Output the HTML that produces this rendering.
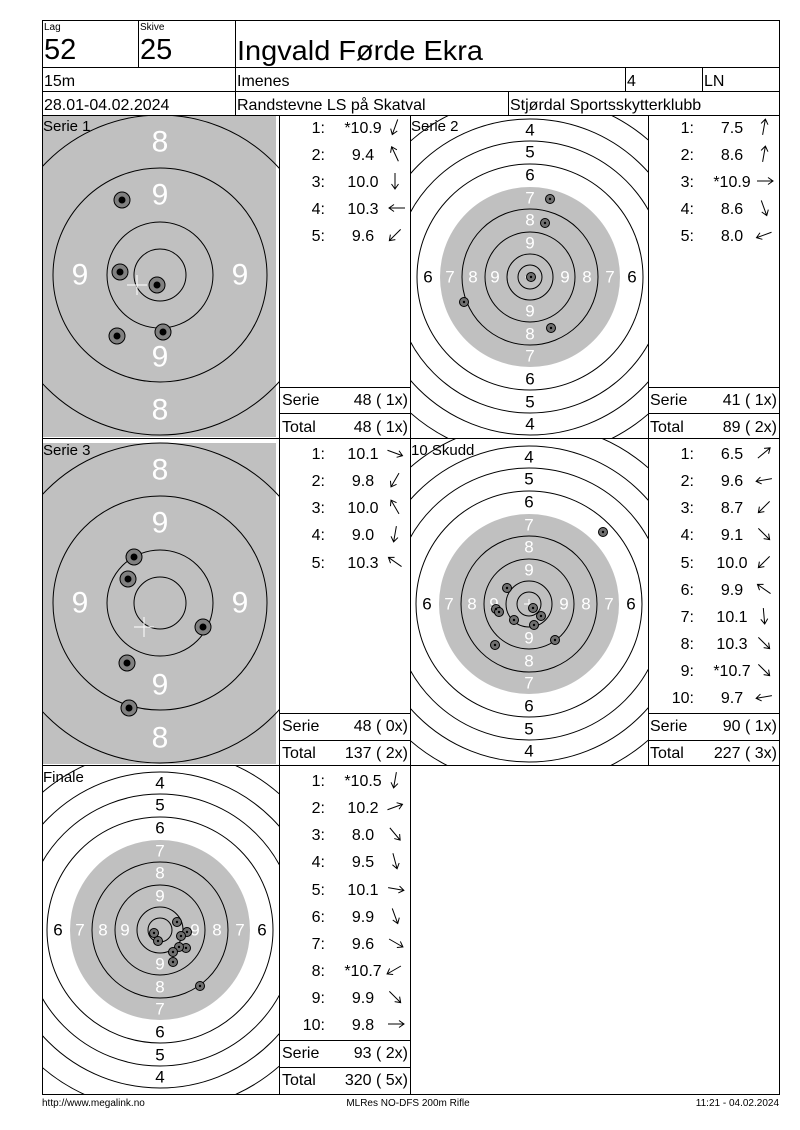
<!DOCTYPE html>
<html><head><meta charset="utf-8"><style>
html,body{margin:0;padding:0;background:#fff}
svg{display:block}
text{font-family:"Liberation Sans",Arial,sans-serif}
</style></head><body>
<svg width="800" height="1130" viewBox="0 0 800 1130" xmlns="http://www.w3.org/2000/svg">
<defs>
<clipPath id="c1"><rect x="42" y="115" width="237" height="323"/></clipPath>
<clipPath id="c2"><rect x="410" y="115" width="238" height="323"/></clipPath>
<clipPath id="c3"><rect x="42" y="438" width="237" height="327"/></clipPath>
<clipPath id="c4"><rect x="410" y="438" width="238" height="327"/></clipPath>
<clipPath id="c5"><rect x="42" y="765" width="237" height="329"/></clipPath>
<g id="tb" fill="none" stroke="#000" stroke-width="1">
<circle r="26"/><circle r="53"/><circle r="107"/><circle r="160"/>
</g>
<g id="ts">
<circle r="90" fill="#c0c0c0"/>
<g fill="none" stroke="#000" stroke-width="1">
<circle r="12"/><circle r="23"/><circle r="45"/><circle r="68"/><circle r="113"/><circle r="136"/><circle r="158"/><circle r="181"/>
</g>
</g>
<g id="ah" fill="none" stroke="#000" stroke-width="1"><path d="M-8,0 H8 M3,-3.5 L8,0 L3,3.5"/></g>
</defs>

<!-- Serie 1 -->
<g clip-path="url(#c1)">
<rect x="43" y="116" width="233" height="321" fill="#c0c0c0"/>
<g transform="translate(160,275)">
<use href="#tb"/>
<g fill="#fff" font-size="30" text-anchor="middle" dominant-baseline="central">
<text x="0" y="-133">8</text><text x="0" y="-80">9</text><text x="-80" y="0">9</text><text x="80" y="0">9</text><text x="0" y="82">9</text><text x="0" y="135">8</text>
</g>
</g>
<path d="M127,285 H147 M137,275 V295" stroke="#fff"/>
<g stroke="#000" fill="#808080">
<circle cx="122" cy="200" r="8"/><circle cx="120" cy="272" r="8"/><circle cx="157" cy="285" r="8"/><circle cx="117" cy="336" r="8"/><circle cx="163" cy="332" r="8"/>
</g>
<g fill="#000"><circle cx="122" cy="200" r="3.5"/><circle cx="120" cy="272" r="3.5"/><circle cx="157" cy="285" r="3.5"/><circle cx="117" cy="336" r="3.5"/><circle cx="163" cy="332" r="3.5"/></g>
<text x="43" y="131" font-size="15">Serie 1</text>
</g>

<!-- Serie 2 -->
<g clip-path="url(#c2)">
<g transform="translate(530,277)">
<use href="#ts"/>
<g font-size="17" text-anchor="middle" dominant-baseline="central">
<g fill="#000"><text y="-147">4</text><text y="-125">5</text><text y="-102">6</text><text y="102">6</text><text y="125">5</text><text y="147">4</text><text x="-102">6</text><text x="102">6</text></g>
<g fill="#fff"><text y="-79">7</text><text y="-57">8</text><text y="-34">9</text><text y="34">9</text><text y="57">8</text><text y="79">7</text><text x="-80">7</text><text x="80">7</text><text x="-57">8</text><text x="57">8</text><text x="-35">9</text><text x="35">9</text></g>
</g>
</g>
<path d="M530,272 V282 M525,277 H535" stroke="#fff"/>
<g stroke="#000" fill="#707070">
<circle cx="550" cy="199" r="4.5"/><circle cx="545" cy="223" r="4.5"/><circle cx="531" cy="277" r="4.5"/><circle cx="464" cy="302" r="4.5"/><circle cx="551" cy="328" r="4.5"/>
</g>
<g fill="#000"><circle cx="550" cy="199" r="1.2"/><circle cx="545" cy="223" r="1.2"/><circle cx="531" cy="277" r="1.2"/><circle cx="464" cy="302" r="1.2"/><circle cx="551" cy="328" r="1.2"/></g>
<text x="411" y="131" font-size="15">Serie 2</text>
</g>

<!-- Serie 3 -->
<g clip-path="url(#c3)">
<rect x="43" y="443" width="233" height="321" fill="#c0c0c0"/>
<g transform="translate(160,603)">
<use href="#tb"/>
<g fill="#fff" font-size="30" text-anchor="middle" dominant-baseline="central">
<text x="0" y="-133">8</text><text x="0" y="-80">9</text><text x="-80" y="0">9</text><text x="80" y="0">9</text><text x="0" y="82">9</text><text x="0" y="135">8</text>
</g>
</g>
<path d="M134,627 H154 M144,617 V637" stroke="#fff"/>
<g stroke="#000" fill="#808080">
<circle cx="134" cy="557" r="8"/><circle cx="128" cy="579" r="8"/><circle cx="203" cy="627" r="8"/><circle cx="127" cy="663" r="8"/><circle cx="129" cy="708" r="8"/>
</g>
<g fill="#000"><circle cx="134" cy="557" r="3.5"/><circle cx="128" cy="579" r="3.5"/><circle cx="203" cy="627" r="3.5"/><circle cx="127" cy="663" r="3.5"/><circle cx="129" cy="708" r="3.5"/></g>
<text x="43" y="455" font-size="15">Serie 3</text>
</g>

<!-- 10 Skudd -->
<g clip-path="url(#c4)">
<g transform="translate(529,604)">
<use href="#ts"/>
<g font-size="17" text-anchor="middle" dominant-baseline="central">
<g fill="#000"><text y="-147">4</text><text y="-125">5</text><text y="-102">6</text><text y="102">6</text><text y="125">5</text><text y="147">4</text><text x="-102">6</text><text x="102">6</text></g>
<g fill="#fff"><text y="-79">7</text><text y="-57">8</text><text y="-34">9</text><text y="34">9</text><text y="57">8</text><text y="79">7</text><text x="-80">7</text><text x="80">7</text><text x="-57">8</text><text x="57">8</text><text x="-35">9</text><text x="35">9</text></g>
</g>
</g>
<path d="M529,599 V609 M524,604 H534" stroke="#fff"/>
<g stroke="#000" fill="#707070">
<circle cx="603" cy="532" r="4.5"/><circle cx="507" cy="588" r="4.5"/><circle cx="496" cy="609" r="4.5"/><circle cx="499" cy="612" r="4.5"/><circle cx="533" cy="608" r="4.5"/><circle cx="541" cy="616" r="4.5"/><circle cx="514" cy="620" r="4.5"/><circle cx="534" cy="625" r="4.5"/><circle cx="555" cy="640" r="4.5"/><circle cx="495" cy="645" r="4.5"/>
</g>
<g fill="#000"><circle cx="603" cy="532" r="1.2"/><circle cx="507" cy="588" r="1.2"/><circle cx="496" cy="609" r="1.2"/><circle cx="499" cy="612" r="1.2"/><circle cx="533" cy="608" r="1.2"/><circle cx="541" cy="616" r="1.2"/><circle cx="514" cy="620" r="1.2"/><circle cx="534" cy="625" r="1.2"/><circle cx="555" cy="640" r="1.2"/><circle cx="495" cy="645" r="1.2"/></g>
<text x="411" y="455" font-size="15">10 Skudd</text>
</g>

<!-- Finale -->
<g clip-path="url(#c5)">
<g transform="translate(160,930)">
<use href="#ts"/>
<g font-size="17" text-anchor="middle" dominant-baseline="central">
<g fill="#000"><text y="-147">4</text><text y="-125">5</text><text y="-102">6</text><text y="102">6</text><text y="125">5</text><text y="147">4</text><text x="-102">6</text><text x="102">6</text></g>
<g fill="#fff"><text y="-79">7</text><text y="-57">8</text><text y="-34">9</text><text y="34">9</text><text y="57">8</text><text y="79">7</text><text x="-80">7</text><text x="80">7</text><text x="-57">8</text><text x="57">8</text><text x="-35">9</text><text x="35">9</text></g>
</g>
</g>
<g stroke="#000" fill="#707070">
<circle cx="177" cy="922" r="4.5"/><circle cx="187" cy="932" r="4.5"/><circle cx="154" cy="933" r="4.5"/><circle cx="158" cy="941" r="4.5"/><circle cx="181" cy="936" r="4.5"/><circle cx="186" cy="948" r="4.5"/><circle cx="179" cy="947" r="4.5"/><circle cx="173" cy="952" r="4.5"/><circle cx="173" cy="962" r="4.5"/><circle cx="200" cy="986" r="4.5"/>
</g>
<g fill="#000"><circle cx="177" cy="922" r="1.2"/><circle cx="187" cy="932" r="1.2"/><circle cx="154" cy="933" r="1.2"/><circle cx="158" cy="941" r="1.2"/><circle cx="181" cy="936" r="1.2"/><circle cx="186" cy="948" r="1.2"/><circle cx="179" cy="947" r="1.2"/><circle cx="173" cy="952" r="1.2"/><circle cx="173" cy="962" r="1.2"/><circle cx="200" cy="986" r="1.2"/></g>
<text x="43" y="782" font-size="15">Finale</text>
</g>

<!-- Grid lines -->
<g stroke="#000" stroke-width="1" fill="none">
<rect x="42.5" y="20.5" width="737" height="1074"/>
<path d="M42,67.5 H780 M42,91.5 H780 M42,115.5 H780 M42,438.5 H780 M42,765.5 H780"/>
<path d="M138.5,20 V67 M235.5,20 V115 M625.5,67 V91 M702.5,67 V91 M508.5,91 V115"/>
<path d="M279.5,115 V1094 M410.5,115 V1094 M648.5,115 V765"/>
<path d="M279,387.5 H410 M279,413.5 H410 M648,387.5 H780 M648,413.5 H780 M279,713.5 H410 M279,740.5 H410 M648,713.5 H780 M648,740.5 H780 M279,1040.5 H410 M279,1067.5 H410"/>
</g>

<!-- Header -->
<text x="44" y="30" font-size="10">Lag</text>
<text x="44" y="59" font-size="29">52</text>
<text x="140" y="30" font-size="10">Skive</text>
<text x="140" y="59" font-size="29">25</text>
<text x="237" y="60" font-size="28" textLength="246" lengthAdjust="spacingAndGlyphs">Ingvald Førde Ekra</text>
<g font-size="16">
<text x="44" y="86">15m</text>
<text x="237" y="86">Imenes</text>
<text x="627" y="86">4</text>
<text x="704" y="86">LN</text>
<text x="44" y="110">28.01-04.02.2024</text>
<text x="237" y="110">Randstevne LS på Skatval</text>
<text x="510" y="110">Stjørdal Sportsskytterklubb</text>
</g>

<!-- Scores -->
<g font-size="16">
<!-- S1 -->
<g text-anchor="end"><text x="325" y="133">1:</text><text x="325" y="160">2:</text><text x="325" y="187">3:</text><text x="325" y="214">4:</text><text x="325" y="241">5:</text></g>
<g text-anchor="middle"><text x="363" y="133">*10.9</text><text x="363" y="160">9.4</text><text x="363" y="187">10.0</text><text x="363" y="214">10.3</text><text x="363" y="241">9.6</text></g>
<text x="282" y="405">Serie</text><text x="408" y="405" text-anchor="end">48 ( 1x)</text>
<text x="282" y="432">Total</text><text x="408" y="432" text-anchor="end">48 ( 1x)</text>
<!-- S2 -->
<g text-anchor="end"><text x="694" y="133">1:</text><text x="694" y="160">2:</text><text x="694" y="187">3:</text><text x="694" y="214">4:</text><text x="694" y="241">5:</text></g>
<g text-anchor="middle"><text x="732" y="133">7.5</text><text x="732" y="160">8.6</text><text x="732" y="187">*10.9</text><text x="732" y="214">8.6</text><text x="732" y="241">8.0</text></g>
<text x="650" y="405">Serie</text><text x="777" y="405" text-anchor="end">41 ( 1x)</text>
<text x="650" y="432">Total</text><text x="777" y="432" text-anchor="end">89 ( 2x)</text>
<!-- S3 -->
<g text-anchor="end"><text x="325" y="459">1:</text><text x="325" y="486">2:</text><text x="325" y="513">3:</text><text x="325" y="540">4:</text><text x="325" y="568">5:</text></g>
<g text-anchor="middle"><text x="363" y="459">10.1</text><text x="363" y="486">9.8</text><text x="363" y="513">10.0</text><text x="363" y="540">9.0</text><text x="363" y="568">10.3</text></g>
<text x="282" y="731">Serie</text><text x="408" y="731" text-anchor="end">48 ( 0x)</text>
<text x="282" y="758">Total</text><text x="408" y="758" text-anchor="end">137 ( 2x)</text>
<!-- 10 Skudd -->
<g text-anchor="end"><text x="694" y="459">1:</text><text x="694" y="486">2:</text><text x="694" y="513">3:</text><text x="694" y="540">4:</text><text x="694" y="568">5:</text><text x="694" y="595">6:</text><text x="694" y="622">7:</text><text x="694" y="649">8:</text><text x="694" y="676">9:</text><text x="694" y="703">10:</text></g>
<g text-anchor="middle"><text x="732" y="459">6.5</text><text x="732" y="486">9.6</text><text x="732" y="513">8.7</text><text x="732" y="540">9.1</text><text x="732" y="568">10.0</text><text x="732" y="595">9.9</text><text x="732" y="622">10.1</text><text x="732" y="649">10.3</text><text x="732" y="676">*10.7</text><text x="732" y="703">9.7</text></g>
<text x="650" y="731">Serie</text><text x="777" y="731" text-anchor="end">90 ( 1x)</text>
<text x="650" y="758">Total</text><text x="777" y="758" text-anchor="end">227 ( 3x)</text>
<!-- Finale -->
<g text-anchor="end"><text x="325" y="786">1:</text><text x="325" y="813">2:</text><text x="325" y="840">3:</text><text x="325" y="867">4:</text><text x="325" y="895">5:</text><text x="325" y="922">6:</text><text x="325" y="949">7:</text><text x="325" y="976">8:</text><text x="325" y="1003">9:</text><text x="325" y="1030">10:</text></g>
<g text-anchor="middle"><text x="363" y="786">*10.5</text><text x="363" y="813">10.2</text><text x="363" y="840">8.0</text><text x="363" y="867">9.5</text><text x="363" y="895">10.1</text><text x="363" y="922">9.9</text><text x="363" y="949">9.6</text><text x="363" y="976">*10.7</text><text x="363" y="1003">9.9</text><text x="363" y="1030">9.8</text></g>
<text x="282" y="1058">Serie</text><text x="408" y="1058" text-anchor="end">93 ( 2x)</text>
<text x="282" y="1085">Total</text><text x="408" y="1085" text-anchor="end">320 ( 5x)</text>
</g>

<!-- Arrows -->
<use href="#ah" transform="translate(395,127) rotate(110)"/>
<use href="#ah" transform="translate(395,154) rotate(245)"/>
<use href="#ah" transform="translate(395,181) rotate(90)"/>
<use href="#ah" transform="translate(397,208) rotate(180)"/>
<use href="#ah" transform="translate(395,235) rotate(135)"/>

<use href="#ah" transform="translate(764,127) rotate(280)"/>
<use href="#ah" transform="translate(764,154) rotate(280)"/>
<use href="#ah" transform="translate(765,181) rotate(0)"/>
<use href="#ah" transform="translate(764,208) rotate(70)"/>
<use href="#ah" transform="translate(764,235) rotate(160)"/>

<use href="#ah" transform="translate(395,453) rotate(20)"/>
<use href="#ah" transform="translate(395,480) rotate(120)"/>
<use href="#ah" transform="translate(395,507) rotate(240)"/>
<use href="#ah" transform="translate(395,534) rotate(100)"/>
<use href="#ah" transform="translate(395,562) rotate(215)"/>

<use href="#ah" transform="translate(764,453) rotate(320)"/>
<use href="#ah" transform="translate(764,480) rotate(170)"/>
<use href="#ah" transform="translate(764,507) rotate(135)"/>
<use href="#ah" transform="translate(764,534) rotate(45)"/>
<use href="#ah" transform="translate(764,562) rotate(135)"/>
<use href="#ah" transform="translate(764,589) rotate(215)"/>
<use href="#ah" transform="translate(764,616) rotate(85)"/>
<use href="#ah" transform="translate(764,643) rotate(45)"/>
<use href="#ah" transform="translate(764,670) rotate(45)"/>
<use href="#ah" transform="translate(764,697) rotate(170)"/>

<use href="#ah" transform="translate(395,780) rotate(100)"/>
<use href="#ah" transform="translate(395,807) rotate(340)"/>
<use href="#ah" transform="translate(395,834) rotate(50)"/>
<use href="#ah" transform="translate(395,861) rotate(75)"/>
<use href="#ah" transform="translate(396,889) rotate(10)"/>
<use href="#ah" transform="translate(395,916) rotate(70)"/>
<use href="#ah" transform="translate(396,943) rotate(30)"/>
<use href="#ah" transform="translate(394,970) rotate(150)"/>
<use href="#ah" transform="translate(395,997) rotate(45)"/>
<use href="#ah" transform="translate(396,1024) rotate(0)"/>

<!-- Footer -->
<g font-size="10">
<text x="42" y="1106">http://www.megalink.no</text>
<text x="408" y="1106" text-anchor="middle">MLRes NO-DFS 200m Rifle</text>
<text x="779" y="1106" text-anchor="end">11:21 - 04.02.2024</text>
</g>
</svg>
</body></html>
